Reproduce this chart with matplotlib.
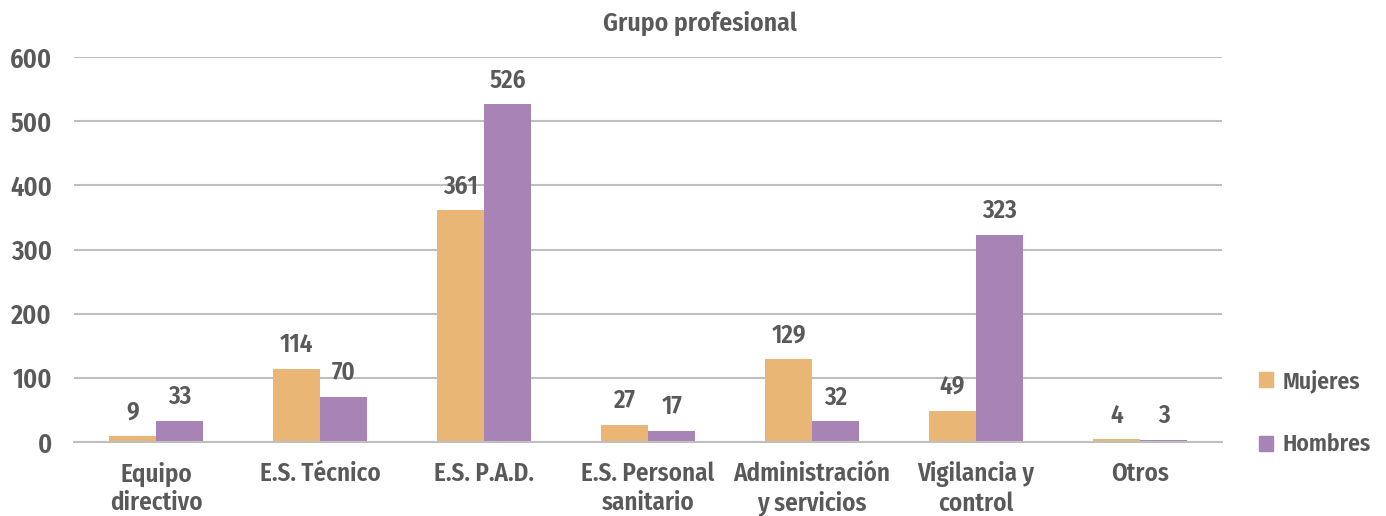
import numpy as np
import matplotlib
matplotlib.use("Agg")
import matplotlib.pyplot as plt
from matplotlib.patches import Patch

categories = ["Equipo\ndirectivo", "E.S. Técnico", "E.S. P.A.D.", "E.S. Personal\nsanitario",
              "Administración\ny servicios", "Vigilancia y\ncontrol", "Otros"]
mujeres = [9, 114, 361, 27, 129, 49, 4]
hombres = [33, 70, 526, 17, 32, 323, 3]

ORANGE = "#EAB676"
PURPLE = "#A784B5"
TEXT = "#595959"
GRID = "#BFBFBF"

plt.rcParams["font.family"] = ["Fira Sans Condensed", "DejaVu Sans"]
plt.rcParams["font.weight"] = 600

fig = plt.figure(figsize=(13.86, 5.16), dpi=100)
ax = fig.add_axes([0.0534, 0.1434, 0.8283, 0.7461])

x = np.arange(len(categories))
w = 0.287
b1 = ax.bar(x - w / 2, mujeres, w, color=ORANGE, zorder=2)
b2 = ax.bar(x + w / 2, hombres, w, color=PURPLE, zorder=2)

for bars, vals in ((b1, mujeres), (b2, hombres)):
    for r, v in zip(bars, vals):
        ax.text(r.get_x() + r.get_width() / 2, v + 18, str(v), ha="center", va="bottom",
                fontsize=18, color=TEXT)

ax.set_xlim(-0.5, len(categories) - 0.5)
ax.set_ylim(0, 600)
ax.set_yticks(range(0, 601, 100))
ax.grid(axis="y", color=GRID, linewidth=1.5, zorder=0)
ax.set_xticks(x)
ax.set_xticklabels(categories, fontsize=18, color=TEXT, linespacing=1.2)
ax.tick_params(axis="y", labelsize=19, labelcolor=TEXT, length=0, pad=16)
ax.tick_params(axis="x", length=0, pad=14)
for s in ["top", "right", "left"]:
    ax.spines[s].set_visible(False)
ax.spines["bottom"].set_color(GRID)
ax.spines["bottom"].set_linewidth(1.5)

fig.text(0.505, 0.955, "Grupo profesional", fontsize=18.5, color=TEXT, ha="center", va="center")

handles = [Patch(color=ORANGE, label="Mujeres"), Patch(color=PURPLE, label="Hombres")]
fig.legend(handles=handles, loc="center left", bbox_to_anchor=(0.893, 0.20), frameon=False,
           fontsize=17, labelcolor=TEXT, handlelength=0.6, handleheight=0.6,
           handletextpad=0.4, labelspacing=1.7)

fig.savefig("out.png", dpi=100)
